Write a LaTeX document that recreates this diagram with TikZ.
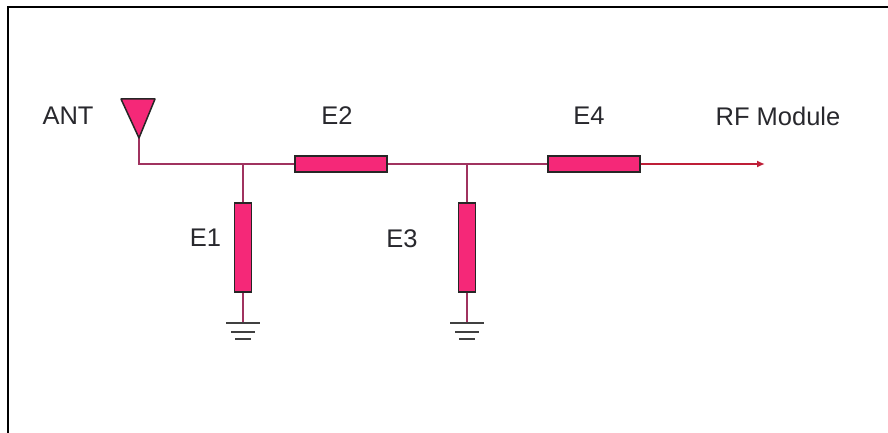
\documentclass[tikz,border=0pt]{standalone}
\usepackage{fontspec}
\setmainfont{Liberation Sans}
\usetikzlibrary{arrows.meta,calc,positioning}
\definecolor{wirecol}{RGB}{160,50,95}
\definecolor{elemcol}{RGB}{245,40,120}
\definecolor{feedcol}{RGB}{190,30,55}
\definecolor{labelcol}{RGB}{40,40,45}

\begin{document}
\begin{tikzpicture}
[x=1pt,y=-1pt,font=\fontsize{25.5}{30}\selectfont,text=labelcol]
\tikzstyle{wire}=[draw=wirecol,line width=1.6pt]
\tikzstyle{feed}=[draw=feedcol,line width=1.6pt,-{Latex[length=8pt,width=7pt]}]
\tikzstyle{hor}=[rectangle,draw=black!85,line width=1.5pt,fill=elemcol,minimum width=92pt,minimum height=16pt,inner sep=0pt]
\tikzstyle{ver}=[rectangle,draw=black!85,line width=1.5pt,fill=elemcol,minimum width=17pt,minimum height=89pt,inner sep=0pt]
\tikzstyle{gnd}=[draw=black!75,line width=1.8pt]

\useasboundingbox (0,0) rectangle (888,433);
\draw[black,line width=2pt] (888,7) -- (8,7) -- (8,433);

\node[hor] (e2) at (341,164) {};
\node[hor] (e4) at (594,164) {};
\node[ver] (e1) at (243,247.5) {};
\node[ver] (e3) at (467,247.5) {};

\coordinate (ant) at (139,138);
\coordinate (corner) at (139,164);
\coordinate (rf) at (765,164);
\coordinate (g1) at (243,323);
\coordinate (g3) at (467,323);
\coordinate (j1) at (e1.north |- corner);
\coordinate (j3) at (e3.north |- corner);

% wires
\draw[wire] (ant) -- (corner) -- (e2.west);
\draw[wire] (e2.east) -- (e4.west);
\draw[wire] (j1) -- (e1.north);
\draw[wire] (j3) -- (e3.north);
\draw[wire] (e1.south) -- (g1);
\draw[wire] (e3.south) -- (g3);
\draw[feed] (e4.east) -- (rf);

% antenna
\draw[draw=black!85,line width=1.5pt,fill=elemcol,line join=round] (ant) -- (121,99) -- (155,99) -- cycle;

% ground
\foreach \g in {g1,g3}{
	\draw[gnd] ($(\g)+(-17,0)$) -- ($(\g)+(17,0)$);
	\draw[gnd] ($(\g)+(-12,9)$) -- ($(\g)+(12,9)$);
	\draw[gnd] ($(\g)+(-8,16)$) -- ($(\g)+(8,16)$);
}

\node (ant_l) at (68,116) {ANT};
\node (e2_l) at (337,116) {E2};
\node (e4_l) at (589,116) {E4};
\node (rf_l) at (778,116) {RF Module};
\node (e1_l) at (205.5,238) {E1};
\node (e3_l) at (402,239) {E3};
\end{tikzpicture}
\end{document}
